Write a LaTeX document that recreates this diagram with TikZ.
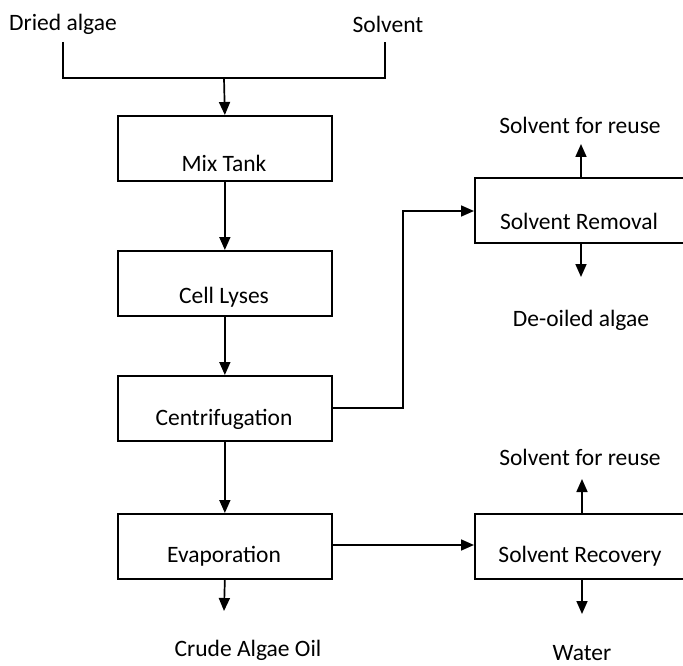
\documentclass[tikz,border=0pt]{standalone}
\usepackage{fontspec}
\setmainfont{Carlito}
\usetikzlibrary{arrows.meta}
\begin{document}
\begin{tikzpicture}[x=1pt,y=-1pt,
  font=\fontsize{23.5}{27}\selectfont,
  line width=1.7pt,
  box/.style={draw,minimum width=214pt,minimum height=65pt,inner sep=0pt,anchor=north west},
  rbox/.style={draw,minimum width=212pt,minimum height=65pt,inner sep=0pt,anchor=north west},
  txt/.style={inner sep=0pt,anchor=center},
  arr/.style={-{Triangle[length=13pt,width=11pt]}}]
\useasboundingbox (0,0) rectangle (683,666);
% texts
\node[txt] (dried) at (63,24) {Dried algae};
\node[txt] (solv) at (388,24) {Solvent};
% boxes
\node[box] (mix) at (117,115) {};
\node[txt] at (224,163) {Mix Tank};
\node[box] (cell) at (117,250) {};
\node[txt] at (224,297) {Cell Lyses};
\node[box] (cent) at (117,375) {};
\node[txt] at (224,419) {Centrifugation};
\node[box] (evap) at (117,513) {};
\node[txt] at (224,556) {Evaporation};
\node[rbox] (srem) at (474,177) {};
\node[txt] at (579,221) {Solvent Removal};
\node[rbox] (srec) at (474,513) {};
\node[txt] at (580,556) {Solvent Recovery};
% outputs
\node[txt] (reuse1) at (580,125) {Solvent for reuse};
\node[txt] (deoil) at (581,320) {De-oiled algae};
\node[txt] (reuse2) at (580,457) {Solvent for reuse};
\node[txt] (water) at (582,653) {Water};
\node[txt] (crude) at (248,650) {Crude Algae Oil};
% coordinates
\coordinate (dl) at (63,42);
\coordinate (sl) at (385,42);
\coordinate (jn) at (224,78);
\coordinate (t1) at (581,144);
\coordinate (b1) at (581,277);
\coordinate (t2) at (582,479);
\coordinate (b2) at (582,614);
\coordinate (b3) at (224,611);
% connectors
\draw (dl) |- (sl |- jn) -- (sl);
\draw[arr] (jn) -- (mix.north);
\draw[arr] (mix.south) -- (cell.north);
\draw[arr] (cell.south) -- (cent.north);
\draw[arr] (cent.south) -- (evap.north);
\draw[arr] (cent.east |- 0,408) -| (403,211) -- (srem.west |- 0,211);
\draw[arr] (evap.east |- 0,545) -- (srec.west |- 0,545);
\draw[arr] (t1 |- srem.north) -- (t1);
\draw[arr] (b1 |- srem.south) -- (b1);
\draw[arr] (t2 |- srec.north) -- (t2);
\draw[arr] (b2 |- srec.south) -- (b2);
\draw[arr] (evap.south) -- (b3);
\end{tikzpicture}
\end{document}
